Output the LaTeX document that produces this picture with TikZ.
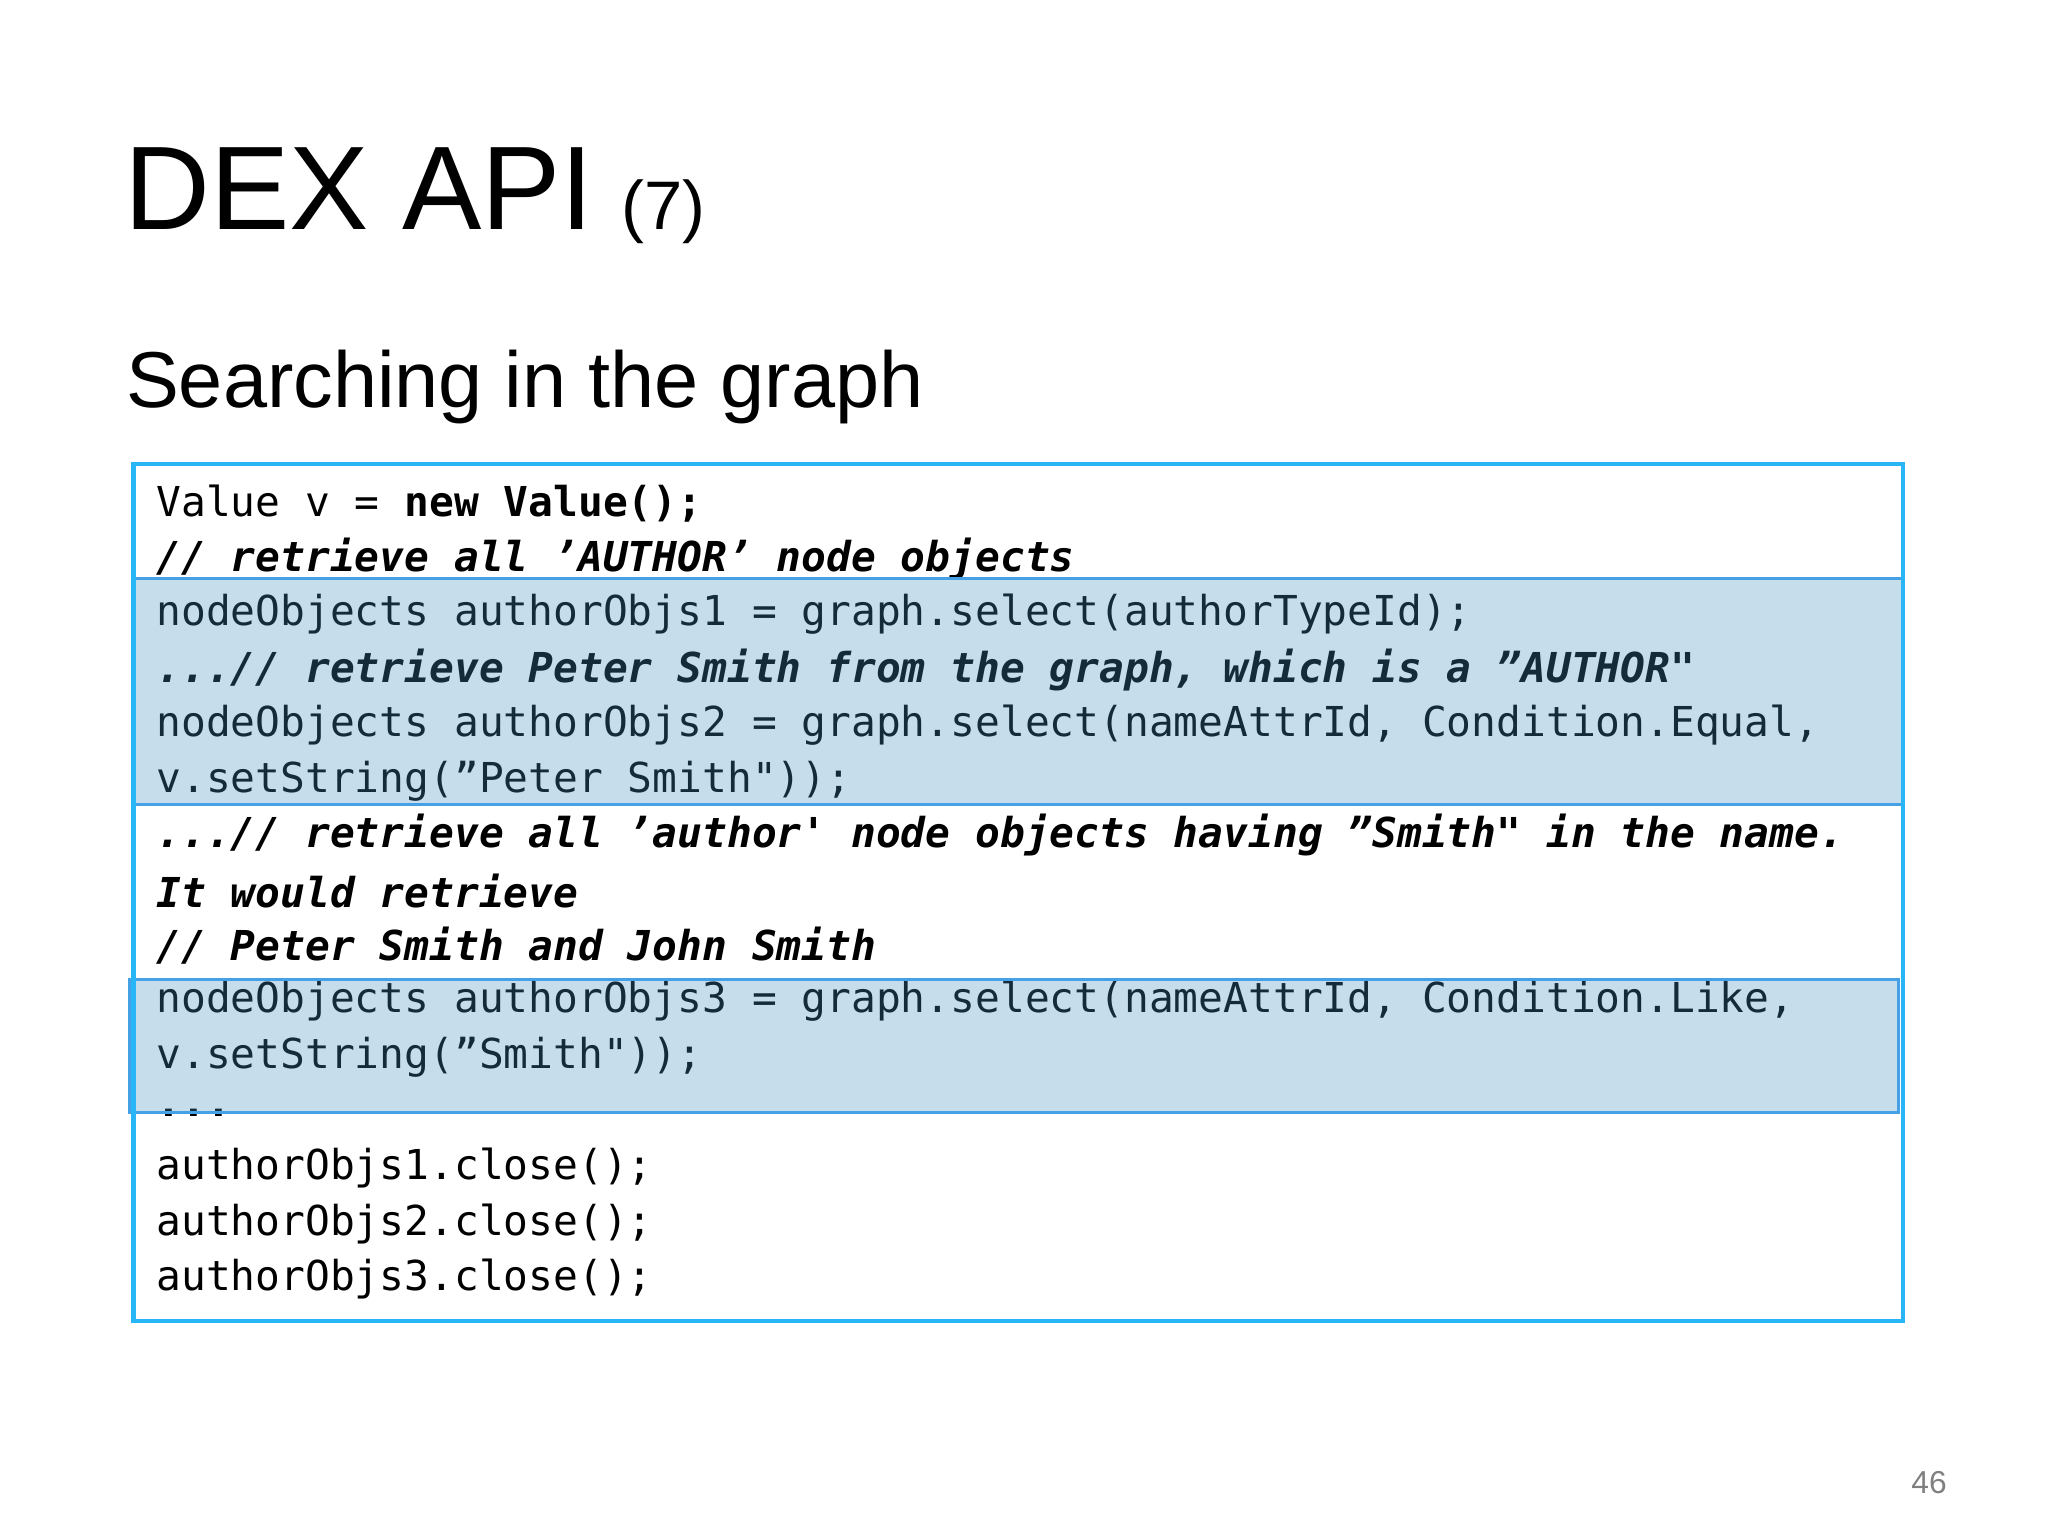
\documentclass[tikz,border=0pt]{standalone}
\usepackage{fontspec}
\setmainfont{Liberation Sans}
\newfontfamily\codefont{DejaVu Sans Mono}
\definecolor{boxc}{RGB}{41,182,246}
\definecolor{hlfill}{RGB}{68,145,192}
\definecolor{hlline}{RGB}{70,160,230}
\begin{document}
\begin{tikzpicture}[x=0.5pt,y=-0.5pt,
  code/.style={anchor=west,inner sep=0pt,font=\codefont\fontsize{15.6}{18}\selectfont},
  cmt/.style={code,font=\codefont\bfseries\itshape\fontsize{15.6}{18}\selectfont},
  kw/.style={code,font=\codefont\bfseries\fontsize{15.6}{18}\selectfont},
  hl/.style={fill=hlfill,fill opacity=0.3,draw=hlline,line width=1.2pt}]
\useasboundingbox (0,0) rectangle (1550,1162);
\fill[white] (0,0) rectangle (1550,1162);
\node[anchor=west,inner sep=0pt,font=\fontsize{45}{48}\selectfont] (title) at (94,148) {DEX API\hspace{-2pt} {\fontsize{26}{30}\selectfont(7)}};
\node[anchor=west,inner sep=0pt,font=\fontsize{30}{34}\selectfont] (sub) at (95,293) {Searching in the graph};
\node[code] (l1) at (118,381) {Value v = {\bfseries new Value();}};
\node[cmt] (l2) at (118,423) {// retrieve all ’AUTHOR’ node objects};
\node[code] (l3) at (118,465) {nodeObjects authorObjs1 = graph.select(authorTypeId);};
\node[cmt] (l4) at (118,507) {...// retrieve Peter Smith from the graph, which is a ”AUTHOR"};
\node[code] (l5) at (118,549) {nodeObjects authorObjs2 = graph.select(nameAttrId, Condition.Equal,};
\node[code] (l6) at (118,591) {v.setString(”Peter Smith"));};
\node[cmt] (l7) at (118,632) {...// retrieve all ’author' node objects having ”Smith" in the name.};
\node[cmt] (l8) at (118,674) {It would retrieve};
\node[cmt] (l9) at (118,716) {// Peter Smith and John Smith};
\node[code] (l10) at (118,758) {nodeObjects authorObjs3 = graph.select(nameAttrId, Condition.Like,};
\node[code] (l11) at (118,800) {v.setString(”Smith"));};
\node[kw] (l12) at (118,842) {...};
\node[code] (l13) at (118,884) {authorObjs1.close();};
\node[code] (l14) at (118,926) {authorObjs2.close();};
\node[code] (l15) at (118,968) {authorObjs3.close();};
\draw[hl] (101,438) rectangle (1440,609);
\draw[hl] (98,741) rectangle (1437,842);
\draw[boxc,line width=1.6pt] (101,351) rectangle (1440,1000);
\node[font=\fontsize{12}{14}\selectfont,text=gray] (pg) at (1460,1122) {46};
\end{tikzpicture}
\end{document}
